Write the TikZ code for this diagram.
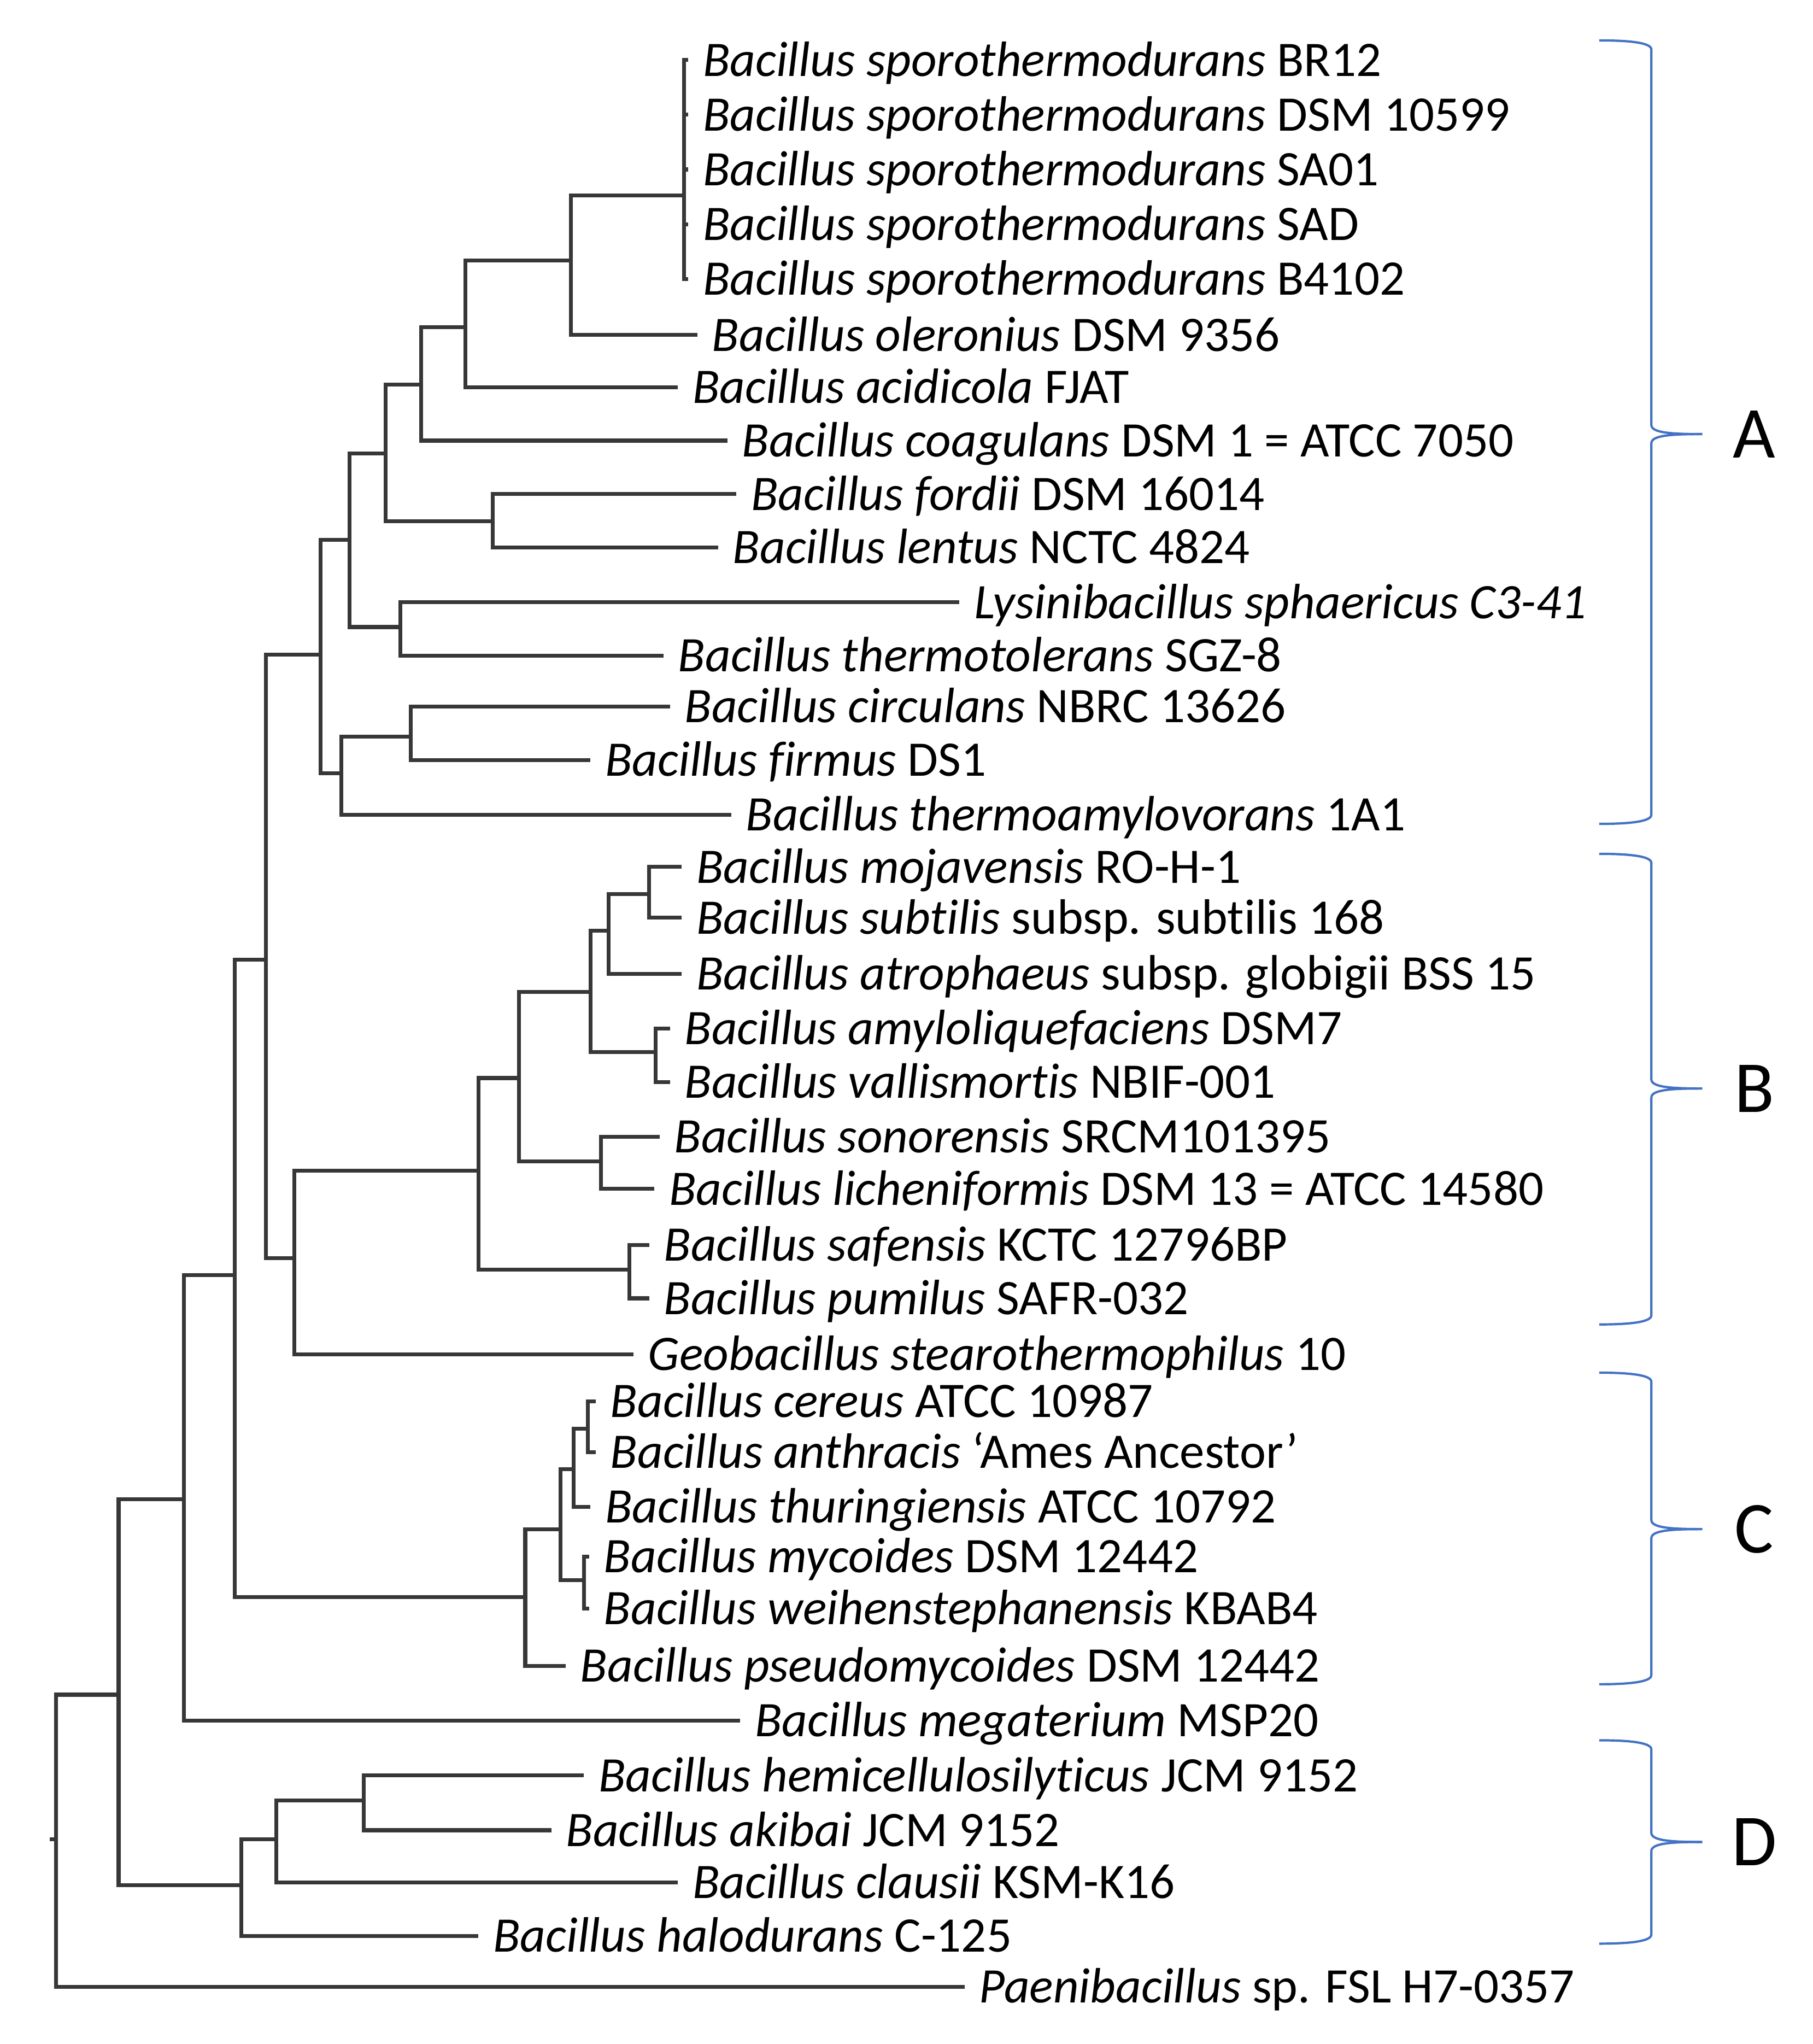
\documentclass[tikz,border=0pt]{standalone}
\usepackage{fontspec}
\setmainfont{Carlito}[Ligatures=NoCommon]
\definecolor{branchgris}{RGB}{55,55,55}
\definecolor{bracebleu}{RGB}{68,114,196}
\tikzset{
  branch/.style={draw=branchgris, line width=1.7pt},
  leaf/.style={anchor=west, inner xsep=0.22cm, inner ysep=0pt, text height=14pt, text depth=0pt, font=\fontsize{21.7}{26}\selectfont},
  accolade/.style={draw=bracebleu, line width=1pt},
  groupe/.style={inner sep=0pt, font=\fontsize{32}{38}\selectfont}
}
\begin{document}
\begin{tikzpicture}[x=0.02cm, y=-0.02cm]
\useasboundingbox (0,0) rectangle (1391,1568);
% feuilles
\node[leaf] (spoBR) at (528,46) {\textit{Bacillus sporothermodurans} BR12};
\node[leaf] (spoDSM) at (528,88) {\textit{Bacillus sporothermodurans} DSM 10599};
\node[leaf] (spoSA) at (528,130) {\textit{Bacillus sporothermodurans} SA01};
\node[leaf] (spoSAD) at (528,172) {\textit{Bacillus sporothermodurans} SAD};
\node[leaf] (spoB) at (528,214) {\textit{Bacillus sporothermodurans} B4102};
\node[leaf] (olero) at (535,257) {\textit{Bacillus oleronius} DSM 9356};
\node[leaf] (acidi) at (520,297) {\textit{Bacillus acidicola} FJAT};
\node[leaf] (coag) at (558,338) {\textit{Bacillus coagulans} DSM 1 = ATCC 7050};
\node[leaf] (fordii) at (565,379) {\textit{Bacillus fordii} DSM 16014};
\node[leaf] (lentus) at (551,420) {\textit{Bacillus lentus} NCTC 4824};
\node[leaf] (lysini) at (736,462) {\textit{Lysinibacillus sphaericus C3-41}};
\node[leaf] (thermot) at (509,503) {\textit{Bacillus thermotolerans} SGZ-8};
\node[leaf] (circ) at (514,542) {\textit{Bacillus circulans} NBRC 13626};
\node[leaf] (firmus) at (453,583) {\textit{Bacillus firmus} DS1};
\node[leaf] (thermoa) at (561,625) {\textit{Bacillus thermoamylovorans} 1A1};
\node[leaf] (mojav) at (523,665) {\textit{Bacillus mojavensis} RO-H-1};
\node[leaf] (subt) at (523,704) {\textit{Bacillus subtilis} subsp. subtilis 168};
\node[leaf] (atroph) at (523,747) {\textit{Bacillus atrophaeus} subsp. globigii BSS 15};
\node[leaf] (amylo) at (514,789) {\textit{Bacillus amyloliquefaciens} DSM7};
\node[leaf] (vallis) at (514,830) {\textit{Bacillus vallismortis} NBIF-001};
\node[leaf] (sonor) at (506,872) {\textit{Bacillus sonorensis} SRCM101395};
\node[leaf] (lichen) at (502,912) {\textit{Bacillus licheniformis} DSM 13 = ATCC 14580};
\node[leaf] (safen) at (498,955) {\textit{Bacillus safensis} KCTC 12796BP};
\node[leaf] (pumil) at (498,996) {\textit{Bacillus pumilus} SAFR-032};
\node[leaf] (geo) at (486,1039) {\textit{Geobacillus stearothermophilus} 10};
\node[leaf] (cereus) at (457,1075) {\textit{Bacillus cereus} ATCC 10987};
\node[leaf] (anthr) at (457,1114) {\textit{Bacillus anthracis} ‘Ames Ancestor’};
\node[leaf] (thuri) at (453,1156) {\textit{Bacillus thuringiensis} ATCC 10792};
\node[leaf] (mycoi) at (452,1194) {\textit{Bacillus mycoides} DSM 12442};
\node[leaf] (weihen) at (452,1234) {\textit{Bacillus weihenstephanensis} KBAB4};
\node[leaf] (pseudo) at (434,1278) {\textit{Bacillus pseudomycoides} DSM 12442};
\node[leaf] (mega) at (568,1320) {\textit{Bacillus megaterium} MSP20};
\node[leaf] (hemic) at (448,1362) {\textit{Bacillus hemicellulosilyticus} JCM 9152};
\node[leaf] (akibai) at (423,1404) {\textit{Bacillus akibai} JCM 9152};
\node[leaf] (clausii) at (520,1444) {\textit{Bacillus clausii} KSM-K16};
\node[leaf] (halod) at (367,1485) {\textit{Bacillus halodurans} C-125};
\node[leaf] (paeni) at (740,1524) {\textit{Paenibacillus} sp. FSL H7-0357};
% noeuds internes
\coordinate (nSpo) at (525,150);
\coordinate (nOle) at (438,200);
\coordinate (nAci) at (357,251);
\coordinate (nCoa) at (323,295);
\coordinate (nFor) at (378,400);
\coordinate (nA1) at (296,348);
\coordinate (nLys) at (307,481);
\coordinate (nA2) at (268,414);
\coordinate (nCir) at (315,565);
\coordinate (nA3) at (262,593);
\coordinate (nA) at (246,502);
\coordinate (nMoj) at (498,686);
\coordinate (nB3) at (467,714);
\coordinate (nAmy) at (503,807);
\coordinate (nB2) at (453,761);
\coordinate (nSon) at (461,891);
\coordinate (nB1) at (398,827);
\coordinate (nSaf) at (483,974);
\coordinate (nB) at (367,898);
\coordinate (nBG) at (226,965);
\coordinate (nAB) at (204,736);
\coordinate (nCer) at (451,1096);
\coordinate (nC2) at (440,1127);
\coordinate (nMyc) at (448,1212);
\coordinate (nC1) at (430,1173);
\coordinate (nC) at (403,1225);
\coordinate (nABC) at (180,978);
\coordinate (nMeg) at (141,1150);
\coordinate (nD2) at (279,1381);
\coordinate (nD1) at (212,1411);
\coordinate (nD) at (185,1446);
\coordinate (nIn) at (91,1300);
\coordinate (nRoot) at (43,1411);
% groupe A
\foreach \f in {spoBR,spoDSM,spoSA,spoSAD,spoB}
  \draw[branch] (nSpo) |- (\f.west);
\draw[branch] (nOle) |- (nSpo);
\draw[branch] (nOle) |- (olero.west);
\draw[branch] (nAci) |- (nOle);
\draw[branch] (nAci) |- (acidi.west);
\draw[branch] (nCoa) |- (nAci);
\draw[branch] (nCoa) |- (coag.west);
\draw[branch] (nFor) |- (fordii.west);
\draw[branch] (nFor) |- (lentus.west);
\draw[branch] (nA1) |- (nCoa);
\draw[branch] (nA1) |- (nFor);
\draw[branch] (nLys) |- (lysini.west);
\draw[branch] (nLys) |- (thermot.west);
\draw[branch] (nA2) |- (nA1);
\draw[branch] (nA2) |- (nLys);
\draw[branch] (nCir) |- (circ.west);
\draw[branch] (nCir) |- (firmus.west);
\draw[branch] (nA3) |- (nCir);
\draw[branch] (nA3) |- (thermoa.west);
\draw[branch] (nA) |- (nA2);
\draw[branch] (nA) |- (nA3);
% groupe B
\draw[branch] (nMoj) |- (mojav.west);
\draw[branch] (nMoj) |- (subt.west);
\draw[branch] (nB3) |- (nMoj);
\draw[branch] (nB3) |- (atroph.west);
\draw[branch] (nAmy) |- (amylo.west);
\draw[branch] (nAmy) |- (vallis.west);
\draw[branch] (nB2) |- (nB3);
\draw[branch] (nB2) |- (nAmy);
\draw[branch] (nSon) |- (sonor.west);
\draw[branch] (nSon) |- (lichen.west);
\draw[branch] (nB1) |- (nB2);
\draw[branch] (nB1) |- (nSon);
\draw[branch] (nSaf) |- (safen.west);
\draw[branch] (nSaf) |- (pumil.west);
\draw[branch] (nB) |- (nB1);
\draw[branch] (nB) |- (nSaf);
\draw[branch] (nBG) |- (nB);
\draw[branch] (nBG) |- (geo.west);
\draw[branch] (nAB) |- (nA);
\draw[branch] (nAB) |- (nBG);
% groupe C
\draw[branch] (nCer) |- (cereus.west);
\draw[branch] (nCer) |- (anthr.west);
\draw[branch] (nC2) |- (nCer);
\draw[branch] (nC2) |- (thuri.west);
\draw[branch] (nMyc) |- (mycoi.west);
\draw[branch] (nMyc) |- (weihen.west);
\draw[branch] (nC1) |- (nC2);
\draw[branch] (nC1) |- (nMyc);
\draw[branch] (nC) |- (nC1);
\draw[branch] (nC) |- (pseudo.west);
\draw[branch] (nABC) |- (nAB);
\draw[branch] (nABC) |- (nC);
\draw[branch] (nMeg) |- (nABC);
\draw[branch] (nMeg) |- (mega.west);
% groupe D
\draw[branch] (nD2) |- (hemic.west);
\draw[branch] (nD2) |- (akibai.west);
\draw[branch] (nD1) |- (nD2);
\draw[branch] (nD1) |- (clausii.west);
\draw[branch] (nD) |- (nD1);
\draw[branch] (nD) |- (halod.west);
\draw[branch] (nIn) |- (nMeg);
\draw[branch] (nIn) |- (nD);
\draw[branch] (nRoot) |- (nIn);
\draw[branch] (nRoot) |- (paeni.west);
\draw[branch] (nRoot) -- ++(-5,0);
% accolades
\foreach \t/\m/\b/\g in {31/333/632/A, 655/835/1016/B, 1053/1173/1292/C, 1335/1413/1491/D}{
  \draw[accolade] (1227,\t) .. controls (1252,\t) and (1267,{\t+2}) .. (1267,{\t+7}) -- (1267,{\m-7}) .. controls (1267,{\m-1}) and (1282,\m) .. (1306,\m);
  \draw[accolade] (1227,\b) .. controls (1252,\b) and (1267,{\b-2}) .. (1267,{\b-7}) -- (1267,{\m+7}) .. controls (1267,{\m+1}) and (1282,\m) .. (1306,\m);
  \node[groupe] (grp\g) at (1346,\m) {\g};
}
\end{tikzpicture}
\end{document}
